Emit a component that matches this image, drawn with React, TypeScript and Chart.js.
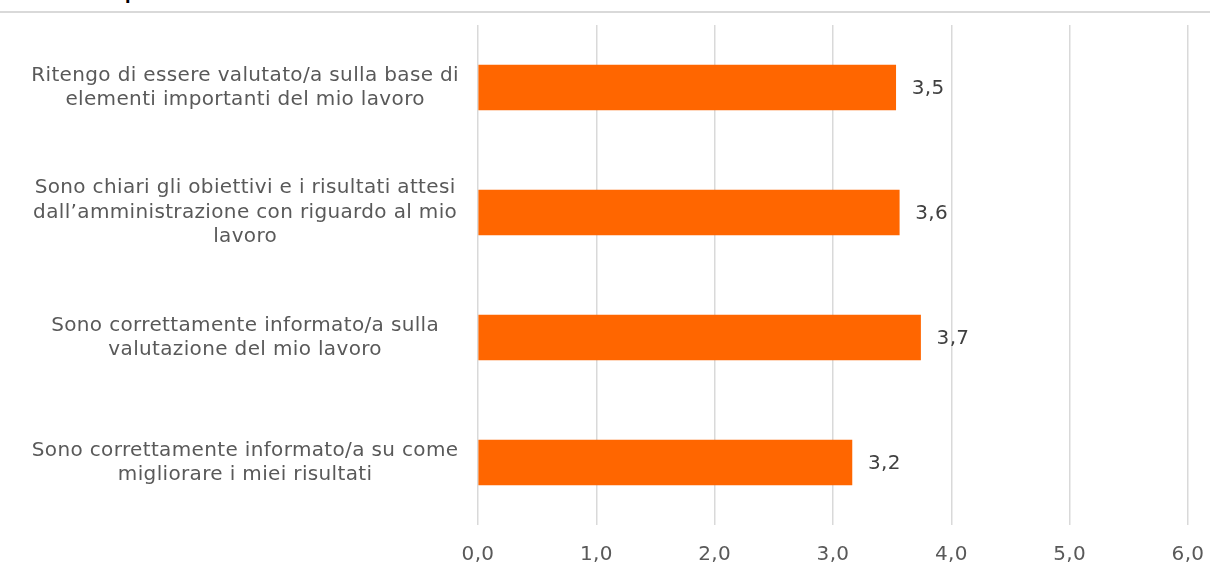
import React, { useEffect, useRef } from "react";
import { Chart, registerables } from "chart.js";

Chart.register(...registerables);

const categories: string[][] = [
  ["Ritengo di essere valutato/a sulla base di", "elementi importanti del mio lavoro"],
  ["Sono chiari gli obiettivi e i risultati attesi", "dall\u2019amministrazione con riguardo al mio", "lavoro"],
  ["Sono correttamente informato/a sulla", "valutazione del mio lavoro"],
  ["Sono correttamente informato/a su come", "migliorare i miei risultati"],
];
const values: number[] = [3.53, 3.56, 3.74, 3.16];
const xTicks: number[] = [0, 1, 2, 3, 4, 5, 6];
const titleText = "La mia performance";

const fmt = (v: number) => v.toFixed(1).replace(".", ",");

const FONT = "'DejaVu Sans', Verdana, sans-serif";
const SPACING = "0.35px";

const spacing = {
  id: "spacing",
  beforeUpdate(chart: any) {
    (chart.ctx as any).letterSpacing = SPACING;
  },
  beforeDraw(chart: any) {
    (chart.ctx as any).letterSpacing = SPACING;
  },
};

const valueLabels = {
  id: "valueLabels",
  afterDatasetsDraw(chart: any) {
    const ctx = chart.ctx;
    const meta = chart.getDatasetMeta(0);
    ctx.save();
    (ctx as any).letterSpacing = SPACING;
    ctx.font = `20px ${FONT}`;
    ctx.fillStyle = "#404040";
    ctx.textAlign = "left";
    ctx.textBaseline = "middle";
    meta.data.forEach((bar: any, i: number) => {
      ctx.fillText(fmt(values[i]), bar.x + 16, bar.y + 1);
    });
    ctx.restore();
  },
};

export default function App() {
  const ref = useRef<HTMLCanvasElement | null>(null);

  useEffect(() => {
    document.body.style.margin = "0";
    if (!ref.current) return;
    const chart = new Chart(ref.current, {
      type: "bar",
      data: {
        labels: categories,
        datasets: [
          {
            data: values,
            backgroundColor: "#FF6600",
            borderWidth: 0,
            barThickness: 45,
          },
        ],
      },
      options: {
        indexAxis: "y",
        animation: false,
        responsive: false,
        maintainAspectRatio: false,
        layout: { padding: { left: 28, right: 22, top: 25, bottom: 13 } },
        plugins: {
          legend: { display: false },
          tooltip: { enabled: false },
        },
        scales: {
          x: {
            min: 0,
            max: 6,
            afterBuildTicks: (scale: any) => {
              scale.ticks = xTicks.map((v) => ({ value: v }));
            },
            afterFit: (scale: any) => {
              scale.height = 42;
              scale.paddingLeft = 0;
              scale.paddingRight = 0;
            },
            grid: { color: "#d9d9d9", lineWidth: 1.5, drawTicks: false },
            border: { display: false },
            ticks: {
              padding: 18,
              color: "#595959",
              font: { family: FONT, size: 20, lineHeight: 1.2 },
              callback: (v: any) => fmt(Number(v)),
              maxRotation: 0,
            },
          },
          y: {
            grid: { display: false, drawTicks: false },
            border: { display: false },
            afterFit: (scale: any) => {
              scale.width = 450;
              scale.paddingTop = 0;
              scale.paddingBottom = 0;
            },
            ticks: {
              padding: 19,
              crossAlign: "center",
              color: "#595959",
              font: { family: FONT, size: 20, lineHeight: 1.22 },
            },
          },
        },
      },
      plugins: [spacing, valueLabels],
    });
    return () => chart.destroy();
  }, []);

  return (
    <div style={{ position: "relative", width: 1210, height: 580, background: "#fff", overflow: "hidden" }}>
      <div
        style={{
          position: "absolute",
          left: 60,
          top: -13,
          font: `bold 16px ${FONT}`,
          lineHeight: "16px",
          color: "#000",
          whiteSpace: "nowrap",
        }}
      >
        {titleText}
      </div>
      <div style={{ position: "absolute", left: 0, top: 11, width: 1210, height: 2, background: "#d9d9d9" }} />
      <canvas ref={ref} width={1210} height={580} style={{ position: "absolute", left: 0, top: 0 }} />
    </div>
  );
}
